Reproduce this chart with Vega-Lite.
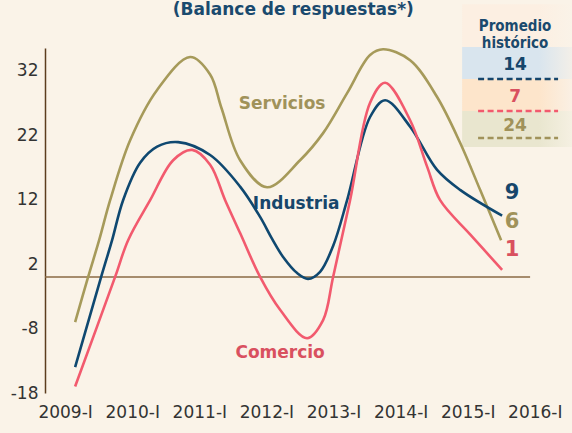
{
  "$schema": "https://vega.github.io/schema/vega-lite/v6.json",
  "width": 496.5,
  "height": 345,
  "autosize": {"type": "none"},
  "padding": {"left": 45, "top": 48, "right": 30, "bottom": 40},
  "background": "#faf3e8",
  "title": {
    "text": "(Balance de respuestas*)",
    "frame": "group",
    "anchor": "middle",
    "baseline": "alphabetic",
    "offset": -28,
    "font": "DejaVu Sans",
    "fontSize": 17,
    "fontWeight": "bold",
    "color": "#1a4a6e"
  },
  "config": {"view": {"stroke": null}, "font": "DejaVu Sans"},
  "datasets": {
    "series": [
      {"serie": "Servicios", "t": 2009.149, "valor": -7.0},
      {"serie": "Servicios", "t": 2009.343, "valor": 0.0},
      {"serie": "Servicios", "t": 2009.507, "valor": 5.7},
      {"serie": "Servicios", "t": 2009.671, "valor": 11.9},
      {"serie": "Servicios", "t": 2009.969, "valor": 21.2},
      {"serie": "Servicios", "t": 2010.371, "valor": 29.0},
      {"serie": "Servicios", "t": 2010.863, "valor": 34.1},
      {"serie": "Servicios", "t": 2011.161, "valor": 31.4},
      {"serie": "Servicios", "t": 2011.330, "valor": 26.2},
      {"serie": "Servicios", "t": 2011.608, "valor": 18.1},
      {"serie": "Servicios", "t": 2012.010, "valor": 13.9},
      {"serie": "Servicios", "t": 2012.502, "valor": 18.1},
      {"serie": "Servicios", "t": 2012.845, "valor": 22.3},
      {"serie": "Servicios", "t": 2013.203, "valor": 28.5},
      {"serie": "Servicios", "t": 2013.545, "valor": 34.4},
      {"serie": "Servicios", "t": 2013.739, "valor": 35.3},
      {"serie": "Servicios", "t": 2014.142, "valor": 33.6},
      {"serie": "Servicios", "t": 2014.544, "valor": 27.9},
      {"serie": "Servicios", "t": 2014.887, "valor": 20.8},
      {"serie": "Servicios", "t": 2015.185, "valor": 13.5},
      {"serie": "Servicios", "t": 2015.498, "valor": 5.7},
      {"serie": "Industria", "t": 2009.149, "valor": -14.0},
      {"serie": "Industria", "t": 2009.537, "valor": 0.0},
      {"serie": "Industria", "t": 2009.700, "valor": 5.7},
      {"serie": "Industria", "t": 2009.864, "valor": 11.9},
      {"serie": "Industria", "t": 2010.118, "valor": 17.7},
      {"serie": "Industria", "t": 2010.371, "valor": 20.2},
      {"serie": "Industria", "t": 2010.684, "valor": 20.9},
      {"serie": "Industria", "t": 2011.161, "valor": 18.9},
      {"serie": "Industria", "t": 2011.608, "valor": 14.0},
      {"serie": "Industria", "t": 2011.906, "valor": 9.3},
      {"serie": "Industria", "t": 2012.085, "valor": 5.9},
      {"serie": "Industria", "t": 2012.249, "valor": 3.1},
      {"serie": "Industria", "t": 2012.458, "valor": 0.6},
      {"serie": "Industria", "t": 2012.621, "valor": -0.3},
      {"serie": "Industria", "t": 2012.800, "valor": 0.8},
      {"serie": "Industria", "t": 2012.994, "valor": 4.8},
      {"serie": "Industria", "t": 2013.203, "valor": 11.9},
      {"serie": "Industria", "t": 2013.545, "valor": 24.8},
      {"serie": "Industria", "t": 2013.769, "valor": 27.4},
      {"serie": "Industria", "t": 2014.142, "valor": 23.3},
      {"serie": "Industria", "t": 2014.544, "valor": 16.6},
      {"serie": "Industria", "t": 2014.887, "valor": 13.5},
      {"serie": "Industria", "t": 2015.513, "valor": 9.5},
      {"serie": "Comercio", "t": 2009.149, "valor": -17.0},
      {"serie": "Comercio", "t": 2009.745, "valor": 0.0},
      {"serie": "Comercio", "t": 2009.939, "valor": 5.7},
      {"serie": "Comercio", "t": 2010.267, "valor": 11.9},
      {"serie": "Comercio", "t": 2010.610, "valor": 18.1},
      {"serie": "Comercio", "t": 2010.893, "valor": 19.7},
      {"serie": "Comercio", "t": 2011.161, "valor": 17.4},
      {"serie": "Comercio", "t": 2011.385, "valor": 11.9},
      {"serie": "Comercio", "t": 2011.608, "valor": 6.8},
      {"serie": "Comercio", "t": 2011.906, "valor": 0.0},
      {"serie": "Comercio", "t": 2012.204, "valor": -5.1},
      {"serie": "Comercio", "t": 2012.607, "valor": -9.5},
      {"serie": "Comercio", "t": 2012.845, "valor": -6.7},
      {"serie": "Comercio", "t": 2012.994, "valor": 0.0},
      {"serie": "Comercio", "t": 2013.247, "valor": 11.9},
      {"serie": "Comercio", "t": 2013.545, "valor": 27.0},
      {"serie": "Comercio", "t": 2013.769, "valor": 30.1},
      {"serie": "Comercio", "t": 2014.142, "valor": 24.3},
      {"serie": "Comercio", "t": 2014.395, "valor": 17.1},
      {"serie": "Comercio", "t": 2014.589, "valor": 11.9},
      {"serie": "Comercio", "t": 2015.036, "valor": 6.6},
      {"serie": "Comercio", "t": 2015.513, "valor": 1.1}
    ],
    "uno": [{"n": 1}]
  },
  "layer": [
    {
      "data": {"name": "uno"},
      "mark": {"type": "rect", "fill": {"gradient": "linear", "x1": 0, "y1": 0, "x2": 1, "y2": 0, "stops": [{"offset": 0, "color": "#fcefe2"}, {"offset": 0.7, "color": "#fcefe2"}, {"offset": 1, "color": "#faf3e8"}]}},
      "encoding": {
        "x": {"datum": 2014.917, "type": "quantitative"},
        "x2": {"datum": 2016.556},
        "y": {"datum": 42.3, "type": "quantitative"},
        "y2": {"datum": 35.66}
      }
    },
    {
      "data": {"name": "uno"},
      "mark": {"type": "rect", "fill": {"gradient": "linear", "x1": 0, "y1": 0, "x2": 1, "y2": 0, "stops": [{"offset": 0, "color": "#d9e5ee"}, {"offset": 0.7, "color": "#d9e5ee"}, {"offset": 1, "color": "#f3efe8"}]}},
      "encoding": {
        "x": {"datum": 2014.917, "type": "quantitative"},
        "x2": {"datum": 2016.556},
        "y": {"datum": 35.66, "type": "quantitative"},
        "y2": {"datum": 30.7}
      }
    },
    {
      "data": {"name": "uno"},
      "mark": {"type": "rect", "fill": {"gradient": "linear", "x1": 0, "y1": 0, "x2": 1, "y2": 0, "stops": [{"offset": 0, "color": "#fde5cb"}, {"offset": 0.7, "color": "#fde5cb"}, {"offset": 1, "color": "#faf0e4"}]}},
      "encoding": {
        "x": {"datum": 2014.917, "type": "quantitative"},
        "x2": {"datum": 2016.556},
        "y": {"datum": 30.7, "type": "quantitative"},
        "y2": {"datum": 25.74}
      }
    },
    {
      "data": {"name": "uno"},
      "mark": {"type": "rect", "fill": {"gradient": "linear", "x1": 0, "y1": 0, "x2": 1, "y2": 0, "stops": [{"offset": 0, "color": "#e9e6cf"}, {"offset": 0.7, "color": "#e9e6cf"}, {"offset": 1, "color": "#f5f0e2"}]}},
      "encoding": {
        "x": {"datum": 2014.917, "type": "quantitative"},
        "x2": {"datum": 2016.556},
        "y": {"datum": 25.74, "type": "quantitative"},
        "y2": {"datum": 20.16}
      }
    },
    {
      "data": {"name": "uno"},
      "mark": {"type": "rule", "color": "#8a6a45", "strokeWidth": 1.5},
      "encoding": {
        "x": {"datum": 2008.7, "type": "quantitative"},
        "x2": {"datum": 2015.93},
        "y": {"datum": 0, "type": "quantitative"}
      }
    },
    {
      "data": {"name": "series"},
      "mark": {"type": "line", "interpolate": "catmull-rom", "strokeWidth": 2.6},
      "encoding": {
        "x": {
          "field": "t", "type": "quantitative",
          "scale": {"domain": [2008.7, 2016.1], "nice": false, "zero": false},
          "axis": {"values": [2009, 2010, 2011, 2012, 2013, 2014, 2015, 2016], "labelExpr": "datum.value + '-I'", "title": null, "domain": false, "ticks": false, "grid": false, "labelFont": "DejaVu Sans", "labelFontSize": 17, "labelColor": "#333333", "labelPadding": 11, "labelFlush": false, "labelOverlap": false}
        },
        "y": {
          "field": "valor", "type": "quantitative",
          "scale": {"domain": [-18, 35.5], "nice": false, "zero": false},
          "axis": {"values": [-18, -8, 2, 12, 22, 32], "labelExpr": "datum.value + ''", "title": null, "grid": false, "ticks": false, "domainColor": "#5c3d1e", "domainWidth": 1.5, "labelFont": "DejaVu Sans", "labelFontSize": 17, "labelColor": "#333333", "labelPadding": 7, "labelFlush": false, "labelOverlap": false}
        },
        "color": {"field": "serie", "type": "nominal", "scale": {"domain": ["Servicios", "Industria", "Comercio"], "range": ["#a69a5a", "#0f4870", "#f25a6e"]}, "legend": null}
      }
    },
    {
      "data": {"name": "uno"},
      "mark": {"type": "rule", "color": "#16466b", "strokeWidth": 2.5, "strokeDash": [6, 3.5]},
      "encoding": {"x": {"datum": 2015.155, "type": "quantitative"}, "x2": {"datum": 2016.347}, "y": {"datum": 30.7, "type": "quantitative"}}
    },
    {
      "data": {"name": "uno"},
      "mark": {"type": "rule", "color": "#f25a6e", "strokeWidth": 2.5, "strokeDash": [6, 3.5]},
      "encoding": {"x": {"datum": 2015.155, "type": "quantitative"}, "x2": {"datum": 2016.347}, "y": {"datum": 25.74, "type": "quantitative"}}
    },
    {
      "data": {"name": "uno"},
      "mark": {"type": "rule", "color": "#a0925a", "strokeWidth": 2.5, "strokeDash": [6, 3.5]},
      "encoding": {"x": {"datum": 2015.155, "type": "quantitative"}, "x2": {"datum": 2016.347}, "y": {"datum": 21.55, "type": "quantitative"}}
    },
    {
      "data": {"values": [{"texto": "Promedio histórico"}]},
      "mark": {"type": "text", "font": "DejaVu Sans Condensed", "fontSize": 15, "fontWeight": "bold", "color": "#1a4a6e", "align": "center", "baseline": "middle", "lineBreak": " ", "lineHeight": 17},
      "encoding": {"x": {"datum": 2015.706, "type": "quantitative"}, "y": {"datum": 38.84, "type": "quantitative"}, "text": {"field": "texto"}}
    },
    {
      "data": {"values": [{"texto": "14"}]},
      "mark": {"type": "text", "fontSize": 17, "fontWeight": "bold", "color": "#16466b", "align": "center", "baseline": "middle"},
      "encoding": {"x": {"datum": 2015.706, "type": "quantitative"}, "y": {"datum": 32.87, "type": "quantitative"}, "text": {"field": "texto"}}
    },
    {
      "data": {"values": [{"texto": "7"}]},
      "mark": {"type": "text", "fontSize": 17, "fontWeight": "bold", "color": "#d9505f", "align": "center", "baseline": "middle"},
      "encoding": {"x": {"datum": 2015.706, "type": "quantitative"}, "y": {"datum": 27.91, "type": "quantitative"}, "text": {"field": "texto"}}
    },
    {
      "data": {"values": [{"texto": "24"}]},
      "mark": {"type": "text", "fontSize": 17, "fontWeight": "bold", "color": "#a0925a", "align": "center", "baseline": "middle"},
      "encoding": {"x": {"datum": 2015.706, "type": "quantitative"}, "y": {"datum": 23.41, "type": "quantitative"}, "text": {"field": "texto"}}
    },
    {
      "data": {"values": [{"texto": "Servicios"}]},
      "mark": {"type": "text", "fontSize": 17, "fontWeight": "bold", "color": "#a0925a", "align": "center", "baseline": "middle"},
      "encoding": {"x": {"datum": 2012.234, "type": "quantitative"}, "y": {"datum": 26.8, "type": "quantitative"}, "text": {"field": "texto"}}
    },
    {
      "data": {"values": [{"texto": "Industria"}]},
      "mark": {"type": "text", "fontSize": 17, "fontWeight": "bold", "color": "#16466b", "align": "center", "baseline": "middle"},
      "encoding": {"x": {"datum": 2012.443, "type": "quantitative"}, "y": {"datum": 11.3, "type": "quantitative"}, "text": {"field": "texto"}}
    },
    {
      "data": {"values": [{"texto": "Comercio"}]},
      "mark": {"type": "text", "fontSize": 17, "fontWeight": "bold", "color": "#d9505f", "align": "center", "baseline": "middle"},
      "encoding": {"x": {"datum": 2012.204, "type": "quantitative"}, "y": {"datum": -11.8, "type": "quantitative"}, "text": {"field": "texto"}}
    },
    {
      "data": {"values": [{"texto": "9"}]},
      "mark": {"type": "text", "fontSize": 21, "fontWeight": "bold", "color": "#16466b", "align": "center", "baseline": "middle"},
      "encoding": {"x": {"datum": 2015.662, "type": "quantitative"}, "y": {"datum": 13.0, "type": "quantitative"}, "text": {"field": "texto"}}
    },
    {
      "data": {"values": [{"texto": "6"}]},
      "mark": {"type": "text", "fontSize": 21, "fontWeight": "bold", "color": "#a0925a", "align": "center", "baseline": "middle"},
      "encoding": {"x": {"datum": 2015.662, "type": "quantitative"}, "y": {"datum": 8.5, "type": "quantitative"}, "text": {"field": "texto"}}
    },
    {
      "data": {"values": [{"texto": "1"}]},
      "mark": {"type": "text", "fontSize": 21, "fontWeight": "bold", "color": "#d9505f", "align": "center", "baseline": "middle"},
      "encoding": {"x": {"datum": 2015.662, "type": "quantitative"}, "y": {"datum": 4.2, "type": "quantitative"}, "text": {"field": "texto"}}
    }
  ]
}
